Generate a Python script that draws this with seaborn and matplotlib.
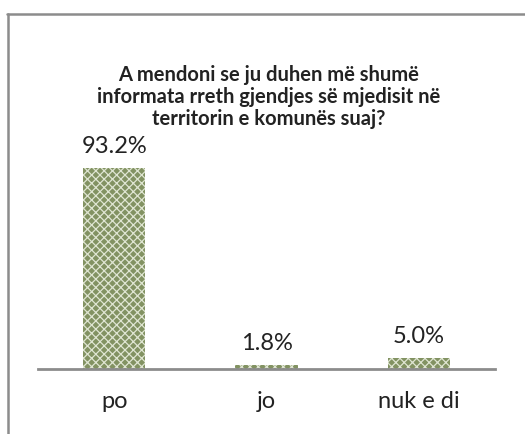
import matplotlib
matplotlib.use("Agg")
import matplotlib.pyplot as plt
import seaborn as sns
import pandas as pd
from matplotlib.lines import Line2D

categories = ["po", "jo", "nuk e di"]
values = [93.2, 1.8, 5.0]
value_labels = ["93.2%", "1.8%", "5.0%"]
title = ("A mendoni se ju duhen më shumë\n"
         "informata rreth gjendjes së mjedisit në\n"
         "territorin e komunës suaj?")

sns.set_theme(style="white")
plt.rcParams['font.family'] = ['Lato', 'DejaVu Sans']
plt.rcParams['hatch.linewidth'] = 0.9

W, H = 525, 434
fig = plt.figure(figsize=(W / 100, H / 100), dpi=100)
fig.patch.set_facecolor('white')

# axes: baseline at y=369px, 1% ~ 2.157px
ax_h = 100 * 2.157
ax = fig.add_axes([38 / W, (H - 369) / H, (495 - 38) / W, ax_h / H])

df = pd.DataFrame({"cat": categories, "val": values})
sns.barplot(data=df, x="cat", y="val", ax=ax, color='#8a9a6a', width=0.41,
            saturation=1, linewidth=0, hatch='xxxx')
for p in ax.patches:
    p.set_facecolor('#829262')
    p.set_edgecolor('#dfe5d2')
    p.set_linewidth(0)

for i, (v, lab) in enumerate(zip(values, value_labels)):
    ax.annotate(lab, (i, v), xytext=(0, 8), textcoords='offset points',
                ha='center', va='bottom', fontsize=17, color='#222222')

ax.set_xlim(-0.5, 2.5)
ax.set_ylim(0, 100)
ax.set_yticks([])
ax.set_xlabel("")
ax.set_ylabel("")
ax.tick_params(axis='x', length=0, pad=16, labelsize=17, labelcolor='#222222')
for s in ['top', 'left', 'right']:
    ax.spines[s].set_visible(False)
ax.spines['bottom'].set_color('#8c8c8c')
ax.spines['bottom'].set_linewidth(2)
ax.patch.set_alpha(0)

fig.text(0.5 + 6 / W, 1 - 65 / H, title, ha='center', va='top', fontsize=14.5,
         fontweight='bold', color='#222222', linespacing=1.12)

# outer chart frame (left and top edges visible)
fig.add_artist(Line2D([8 / W, 8 / W], [0, 1 - 14 / H], transform=fig.transFigure,
                      color='#8c8c8c', lw=1.8))
fig.add_artist(Line2D([7 / W, 1], [1 - 14 / H, 1 - 14 / H], transform=fig.transFigure,
                      color='#8c8c8c', lw=1.8))

fig.savefig("out.png", dpi=100)
